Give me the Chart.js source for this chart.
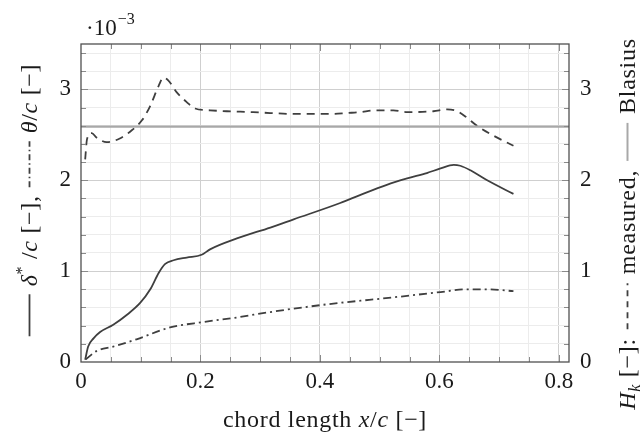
<!DOCTYPE html>
<html>
<head>
<meta charset="utf-8">
<script src="https://cdn.jsdelivr.net/npm/chart.js@4.4.1/dist/chart.umd.min.js"></script>
<style>
  html, body { margin: 0; padding: 0; background: #fff; }
  #wrap { width: 642px; height: 435px; }
</style>
</head>
<body>
<div id="wrap"><canvas id="grafico" width="642" height="435"></canvas></div>
<script>
// x/c positions and values
const xMax = 0.817;

// shape factor H_k, measured (dashed)
const hkX = [0.007, 0.010, 0.018, 0.026, 0.043, 0.065, 0.085, 0.102, 0.116, 0.130, 0.138, 0.146, 0.160, 0.177, 0.191, 0.216, 0.244, 0.288, 0.317, 0.356, 0.423, 0.445, 0.468, 0.490, 0.523, 0.546, 0.590, 0.613, 0.630, 0.646, 0.663, 0.691, 0.724];
const hkY = [2.23, 2.45, 2.52, 2.47, 2.42, 2.46, 2.55, 2.66, 2.82, 3.04, 3.13, 3.10, 2.97, 2.86, 2.79, 2.77, 2.76, 2.75, 2.74, 2.73, 2.73, 2.74, 2.75, 2.77, 2.77, 2.75, 2.76, 2.78, 2.76, 2.69, 2.60, 2.49, 2.38];

// displacement thickness delta*/c  (x 1e-3, solid)
const dsX = [0.007, 0.012, 0.021, 0.032, 0.054, 0.077, 0.099, 0.116, 0.130, 0.141, 0.155, 0.177, 0.202, 0.216, 0.261, 0.317, 0.356, 0.434, 0.468, 0.512, 0.546, 0.579, 0.602, 0.624, 0.635, 0.652, 0.680, 0.724];
const dsY = [0.025, 0.17, 0.26, 0.33, 0.41, 0.52, 0.65, 0.80, 0.98, 1.08, 1.12, 1.15, 1.18, 1.24, 1.36, 1.48, 1.57, 1.75, 1.84, 1.95, 2.02, 2.08, 2.13, 2.17, 2.16, 2.11, 2.00, 1.85];

// momentum thickness theta/c (x 1e-3, dash-dotted)
const thX = [0.008, 0.026, 0.054, 0.093, 0.149, 0.205, 0.261, 0.317, 0.406, 0.535, 0.602, 0.646, 0.680, 0.724];
const thY = [0.03, 0.12, 0.17, 0.25, 0.38, 0.44, 0.49, 0.55, 0.63, 0.72, 0.77, 0.80, 0.80, 0.78];

// Blasius shape factor
const blasiusX = [0, xMax];
const blasiusH = 2.59;

// tick labels
const xTickLabels = ['0', '0.2', '0.4', '0.6', '0.8'];
const yTickLabels = ['0', '1', '2', '3'];

const serif = "'Liberation Serif', 'DejaVu Serif', serif";
const lineCol = '#3f3f3f';
const blasCol = '#a8a8a8';

function pts(xs, ys) {
  return xs.map((x, i) => ({ x: x, y: Array.isArray(ys) ? ys[i] : ys }));
}

function isMult(v, step) {
  const r = v / step;
  return Math.abs(r - Math.round(r)) < 1e-6;
}

// rich text along a (possibly rotated) baseline, with small line samples
function drawRich(ctx, parts, cx, cy, rot) {
  ctx.save();
  ctx.translate(cx, cy);
  ctx.rotate(rot);
  ctx.letterSpacing = '0.7px';
  let total = 0;
  parts.forEach(p => {
    if (p.t !== undefined) { ctx.font = p.f; p.w = ctx.measureText(p.t).width; }
    else p.w = p.len;
    total += p.w + (p.gap || 0);
  });
  let x = -total / 2;
  ctx.textBaseline = 'alphabetic';
  ctx.textAlign = 'left';
  parts.forEach(p => {
    if (p.t !== undefined) {
      ctx.font = p.f;
      ctx.fillStyle = '#1a1a1a';
      ctx.fillText(p.t, x, p.dy || 0);
    } else {
      ctx.beginPath();
      ctx.setLineDash(p.dash || []);
      ctx.strokeStyle = p.c;
      ctx.lineWidth = p.lw;
      ctx.moveTo(x, -7.5);
      ctx.lineTo(x + p.len, -7.5);
      ctx.stroke();
      ctx.setLineDash([]);
    }
    x += p.w + (p.gap || 0);
  });
  ctx.restore();
}

const rm = '24px ' + serif;
const it = 'italic 24px ' + serif;
const sm = '16px ' + serif;
const smit = 'italic 16px ' + serif;

const framePlugin = {
  id: 'frame',
  afterDraw(chart) {
    const ctx = chart.ctx;
    const a = chart.chartArea;
    const xs = chart.scales.x, ys = chart.scales.y;
    ctx.save();
    // inner tick marks
    ctx.strokeStyle = '#8a8a8a';
    ctx.lineWidth = 1;
    ctx.beginPath();
    for (let i = 1; i < 17; i++) {
      const v = i * 0.05;
      const px = Math.round(xs.getPixelForValue(v)) + 0.5;
      const len = isMult(v, 0.2) ? 7 : 5;
      ctx.moveTo(px, a.bottom); ctx.lineTo(px, a.bottom - len);
      ctx.moveTo(px, a.top); ctx.lineTo(px, a.top + len);
    }
    for (let i = 1; i < 18; i++) {
      const v = i * 0.2;
      const py = Math.round(ys.getPixelForValue(v)) + 0.5;
      const len = isMult(v, 1) ? 7 : 5;
      ctx.moveTo(a.left, py); ctx.lineTo(a.left + len, py);
      ctx.moveTo(a.right, py); ctx.lineTo(a.right - len, py);
    }
    ctx.stroke();
    // axis frame
    ctx.strokeStyle = '#505050';
    ctx.lineWidth = 1.3;
    ctx.strokeRect(a.left, a.top, a.right - a.left, a.bottom - a.top);
    ctx.restore();

    // scale factor above left axis
    ctx.save();
    ctx.fillStyle = '#1a1a1a';
    ctx.textBaseline = 'alphabetic';
    ctx.font = '23px ' + serif;
    ctx.fillText('\u00B710', 86, 35);
    const w = ctx.measureText('\u00B710').width;
    ctx.font = sm;
    ctx.fillText('\u22123', 87 + w, 24);
    ctx.restore();

    // x axis title
    drawRich(ctx, [
      { t: 'chord length ', f: rm },
      { t: 'x', f: it },
      { t: '/', f: rm },
      { t: 'c', f: it },
      { t: ' [\u2212]', f: rm }
    ], (a.left + a.right) / 2, 427, 0);

    // left axis title
    drawRich(ctx, [
      { len: 42, c: lineCol, lw: 1.8, gap: 8 },
      { t: '\u03B4', f: it },
      { t: '*', f: sm, dy: -10 },
      { t: ' /', f: rm },
      { t: 'c', f: it },
      { t: ' [\u2212],', f: rm, gap: 8 },
      { len: 46, c: lineCol, lw: 1.8, dash: [6, 3, 1.5, 3], gap: 8 },
      { t: '\u03B8', f: it },
      { t: '/', f: rm },
      { t: 'c', f: it },
      { t: ' [\u2212]', f: rm }
    ], 37, 200, -Math.PI / 2);

    // right axis title
    drawRich(ctx, [
      { t: 'H', f: it },
      { t: 'k', f: smit, dy: 5 },
      { t: ' [\u2212]:', f: rm, gap: 9 },
      { len: 46, c: lineCol, lw: 1.8, dash: [6, 5], gap: 9 },
      { t: 'measured,', f: rm, gap: 9 },
      { len: 38, c: blasCol, lw: 2, gap: 9 },
      { t: 'Blasius', f: rm }
    ], 635, 224, -Math.PI / 2);
  }
};

function gridColor(ctx, step) {
  const v = ctx.tick.value;
  if (v <= 1e-9) return 'rgba(0,0,0,0)';
  return isMult(v, step) ? '#cfcfcf' : '#ececec';
}

const tickFont = { family: serif, size: 23 };

new Chart(document.getElementById('grafico').getContext('2d'), {
  type: 'line',
  data: {
    datasets: [
      {
        label: 'Blasius',
        data: pts(blasiusX, blasiusH),
        yAxisID: 'y2',
        borderColor: blasCol,
        borderWidth: 2.2,
        pointRadius: 0
      },
      {
        label: 'H_k measured',
        data: pts(hkX, hkY),
        yAxisID: 'y2',
        borderColor: lineCol,
        borderWidth: 1.8,
        borderDash: [8, 6],
        pointRadius: 0,
        cubicInterpolationMode: 'monotone'
      },
      {
        label: 'delta*/c',
        data: pts(dsX, dsY),
        yAxisID: 'y',
        borderColor: lineCol,
        borderWidth: 1.8,
        pointRadius: 0,
        cubicInterpolationMode: 'monotone'
      },
      {
        label: 'theta/c',
        data: pts(thX, thY),
        yAxisID: 'y',
        borderColor: lineCol,
        borderWidth: 1.8,
        borderDash: [8, 4, 2, 4],
        pointRadius: 0,
        cubicInterpolationMode: 'monotone'
      }
    ]
  },
  options: {
    responsive: false,
    animation: false,
    devicePixelRatio: 1,
    layout: { padding: { top: 44, left: 0, right: 0, bottom: 0 } },
    plugins: { legend: { display: false }, tooltip: { enabled: false } },
    scales: {
      x: {
        type: 'linear',
        min: 0,
        max: xMax,
        afterFit: s => { s.height = 73; },
        border: { display: false },
        grid: { drawTicks: false, color: c => gridColor(c, 0.2) },
        ticks: {
          stepSize: 0.05,
          includeBounds: false,
          autoSkip: false,
          maxRotation: 0,
          padding: 6,
          color: '#1a1a1a',
          font: tickFont,
          callback: v => isMult(v, 0.2) ? xTickLabels[Math.round(v / 0.2)] : ''
        }
      },
      y: {
        position: 'left',
        min: 0,
        max: 3.5,
        afterFit: s => { s.width = 81; },
        border: { display: false },
        grid: { drawTicks: false, color: c => gridColor(c, 1) },
        ticks: {
          stepSize: 0.2,
          includeBounds: false,
          autoSkip: false,
          padding: 10,
          color: '#1a1a1a',
          font: tickFont,
          callback: v => isMult(v, 1) ? yTickLabels[Math.round(v)] : ''
        }
      },
      y2: {
        position: 'right',
        min: 0,
        max: 3.5,
        afterFit: s => { s.width = 73; },
        border: { display: false },
        grid: { display: false, drawTicks: false },
        ticks: {
          stepSize: 0.2,
          includeBounds: false,
          autoSkip: false,
          padding: 11,
          color: '#1a1a1a',
          font: tickFont,
          callback: v => isMult(v, 1) ? yTickLabels[Math.round(v)] : ''
        }
      }
    }
  },
  plugins: [framePlugin]
});
</script>
</body>
</html>
